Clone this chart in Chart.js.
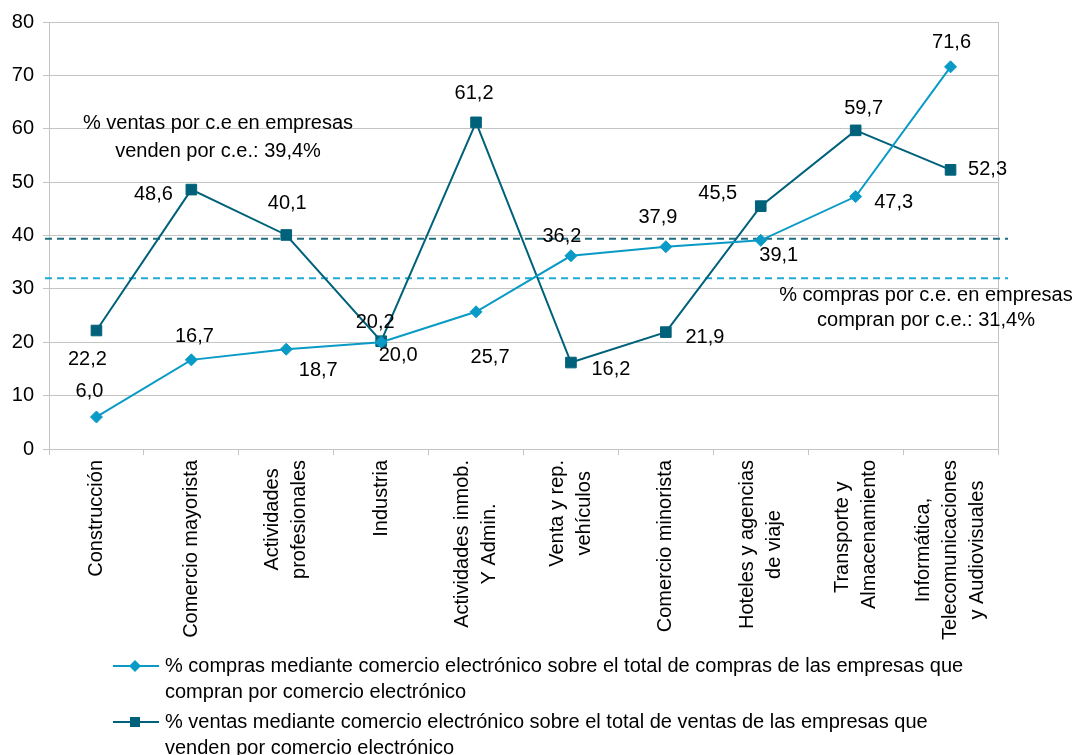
<!DOCTYPE html>
<html><head><meta charset="utf-8">
<script src="https://cdn.jsdelivr.net/npm/chart.js@4.4.0/dist/chart.umd.min.js"></script>
<style>html,body{margin:0;padding:0;background:#fff;}#wrap{width:1079px;height:755px;position:relative;}</style>
</head><body><div id="wrap"><canvas id="c" width="1079" height="755"></canvas></div>
<script>
const categories = [
  'Construcción',
  'Comercio mayorista',
  ['Actividades', 'profesionales'],
  'Industria',
  ['Actividades inmob.', 'Y Admin.'],
  ['Venta y rep.', 'vehículos'],
  'Comercio minorista',
  ['Hoteles y agencias', 'de viaje'],
  ['Transporte y ', 'Almacenamiento'],
  ['Informática,', 'Telecomunicaciones', 'y Audiovisuales']
];
const comprasValues = [6.0, 16.7, 18.7, 20.0, 25.7, 36.2, 37.9, 39.1, 47.3, 71.6];
const ventasValues = [22.2, 48.6, 40.1, 20.2, 61.2, 16.2, 21.9, 45.5, 59.7, 52.3];
const comprasAverage = 32.0;   // line drawn near 32 (labelled 31,4%)
const ventasAverage = 39.4;
const yTicks = [0, 10, 20, 30, 40, 50, 60, 70, 80];
const comprasLegend = ['% compras mediante comercio electrónico sobre el total de compras de las empresas que', 'compran por comercio electrónico'];
const ventasLegend = ['% ventas mediante comercio electrónico sobre el total de ventas de las empresas que', 'venden por comercio electrónico'];
const ventasNote = ['% ventas por c.e en empresas', 'venden por c.e.: 39,4%'];
const comprasNote = ['% compras por c.e. en empresas', 'compran por c.e.: 31,4%'];

// label offsets (styling) relative to each point
const comprasLabelOffsets = [[-7,-25],[3,-23],[32,21],[17,13],[14,46],[-9,-19],[-8,-29],[18,15],[38,6],[1,-24]];
const ventasLabelOffsets = [[-9,29],[-38,5],[1,-31],[-6,-19],[-2,-29],[40,7],[39,5],[-43,-13],[8,-22],[37,0]];

const C_COMPRAS = '#0A9AC6';
const C_VENTAS = '#00627A';
const FONT = '"Liberation Sans", Arial, sans-serif';
const FS = 20;
const GRID = '#C4C4C4';

const fmt = v => v.toFixed(1).replace('.', ',');

const overlay = {
  id: 'overlay',
  beforeDatasetsDraw(chart) {
    const ctx = chart.ctx, a = chart.chartArea, y = chart.scales.y, x = chart.scales.x;
    ctx.save();
    // right border
    ctx.strokeStyle = GRID; ctx.lineWidth = 1;
    ctx.beginPath(); ctx.moveTo(Math.round(a.right) + 0.5, a.top); ctx.lineTo(Math.round(a.right) + 0.5, a.bottom + 6); ctx.stroke();
    // average dashed lines
    ctx.setLineDash([7, 5]); ctx.lineWidth = 2;
    ctx.strokeStyle = '#1F6E80';
    let py = y.getPixelForValue(ventasAverage);
    ctx.beginPath(); ctx.moveTo(a.left - 4, py); ctx.lineTo(a.right + 10, py); ctx.stroke();
    ctx.strokeStyle = '#1FAAD2';
    py = y.getPixelForValue(comprasAverage);
    ctx.beginPath(); ctx.moveTo(a.left - 4, py); ctx.lineTo(a.right + 10, py); ctx.stroke();
    ctx.setLineDash([]);
    // category labels, rotated, lines centred
    ctx.font = FS + 'px ' + FONT;
    ctx.fillStyle = '#000';
    ctx.textAlign = 'center';
    ctx.textBaseline = 'middle';
    const lh = 27;
    categories.forEach((lab, i) => {
      const lines = Array.isArray(lab) ? lab : [lab];
      const maxW = Math.max(...lines.map(t => ctx.measureText(t).width));
      const px = x.getPixelForValue(i);
      ctx.save();
      ctx.translate(px, a.bottom + 11);
      ctx.rotate(-Math.PI / 2);
      lines.forEach((t, k) => ctx.fillText(t, -maxW / 2, (k - (lines.length - 1) / 2) * lh));
      ctx.restore();
    });
    ctx.restore();
  },
  afterDraw(chart) {
    const ctx = chart.ctx, a = chart.chartArea;
    ctx.save();
    ctx.font = FS + 'px ' + FONT;
    ctx.fillStyle = '#000';
    ctx.textAlign = 'center';
    ctx.textBaseline = 'middle';
    // value labels
    const sets = [[0, comprasValues, comprasLabelOffsets], [1, ventasValues, ventasLabelOffsets]];
    sets.forEach(([di, vals, offs]) => {
      const meta = chart.getDatasetMeta(di);
      meta.data.forEach((pt, i) => {
        ctx.fillText(fmt(vals[i]), pt.x + offs[i][0], pt.y + offs[i][1]);
      });
    });
    // notes
    ctx.fillText(ventasNote[0], a.left + 169, a.top + 101);
    ctx.fillText(ventasNote[1], a.left + 169, a.top + 129);
    ctx.fillText(comprasNote[0], a.right - 72, a.top + 273);
    ctx.fillText(comprasNote[1], a.right - 72, a.top + 298);
    // legend
    const entries = [[comprasLegend, C_COMPRAS, 'diamond', 666], [ventasLegend, C_VENTAS, 'square', 722]];
    ctx.textAlign = 'left';
    entries.forEach(([lines, col, shape, ly]) => {
      ctx.strokeStyle = col; ctx.fillStyle = col; ctx.lineWidth = 2;
      ctx.beginPath(); ctx.moveTo(113, ly); ctx.lineTo(159, ly); ctx.stroke();
      ctx.beginPath();
      if (shape === 'diamond') {
        ctx.moveTo(135, ly - 6); ctx.lineTo(141, ly); ctx.lineTo(135, ly + 6); ctx.lineTo(129, ly); ctx.closePath();
      } else {
        ctx.rect(130, ly - 5, 10, 10);
      }
      ctx.fill();
      ctx.fillStyle = '#000';
      lines.forEach((t, k) => ctx.fillText(t, 165, ly + k * 26));
    });
    ctx.restore();
  }
};

new Chart(document.getElementById('c'), {
  type: 'line',
  data: {
    labels: categories,
    datasets: [
      { label: comprasLegend.join(' '), data: comprasValues, borderColor: C_COMPRAS, backgroundColor: C_COMPRAS,
        borderWidth: 2, pointStyle: 'rectRot', pointRadius: 6, pointHoverRadius: 6, pointBorderWidth: 1, tension: 0, fill: false },
      { label: ventasLegend.join(' '), data: ventasValues, borderColor: C_VENTAS, backgroundColor: C_VENTAS,
        borderWidth: 2, pointStyle: 'rect', pointRadius: 7.5, pointHoverRadius: 7.5, pointBorderWidth: 1, tension: 0, fill: false }
    ]
  },
  options: {
    responsive: false,
    animation: false,
    events: [],
    layout: { padding: { top: 22, right: 81, bottom: 106, left: 0 } },
    plugins: { legend: { display: false }, tooltip: { enabled: false } },
    scales: {
      x: {
        offset: true,
        grid: { offset: true, drawOnChartArea: false, color: GRID, tickLength: 6 },
        border: { color: GRID, width: 1 },
        ticks: { display: false },
        afterFit(s) { s.height = 200; }
      },
      y: {
        min: 0, max: 80,
        afterBuildTicks(s) { s.ticks = yTicks.map(v => ({ value: v })); },
        grid: { color: GRID, tickLength: 6 },
        border: { color: GRID, width: 1 },
        ticks: { padding: 9, color: '#000', font: { family: FONT, size: FS } },
        afterFit(s) { s.width = 49; }
      }
    }
  },
  plugins: [overlay]
});
</script></body></html>
